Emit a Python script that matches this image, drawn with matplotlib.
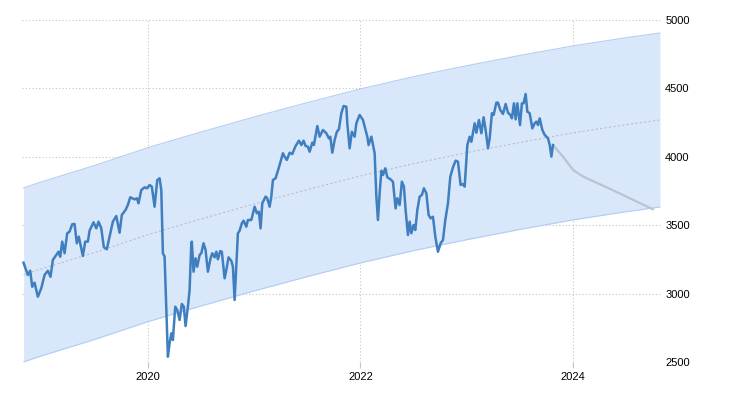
import matplotlib
matplotlib.use('Agg')
import matplotlib.pyplot as plt
import numpy as np

# index values (decimal years, points)
dates = [
    2018.834, 2018.875, 2018.897, 2018.916, 2018.938, 2018.969, 2019.001, 2019.032,
    2019.063, 2019.088, 2019.110, 2019.142, 2019.163, 2019.179, 2019.198, 2019.220,
    2019.245, 2019.267, 2019.292, 2019.314, 2019.335, 2019.354, 2019.392, 2019.414,
    2019.439, 2019.455, 2019.492, 2019.518, 2019.539, 2019.565, 2019.589, 2019.617,
    2019.636, 2019.674, 2019.706, 2019.737, 2019.758, 2019.793, 2019.815, 2019.837,
    2019.878, 2019.899, 2019.915, 2019.941, 2019.972, 2019.997, 2020.019, 2020.040,
    2020.066, 2020.091, 2020.113, 2020.129, 2020.144, 2020.160, 2020.176, 2020.191,
    2020.207, 2020.223, 2020.238, 2020.260, 2020.279, 2020.301, 2020.322, 2020.341,
    2020.357, 2020.379, 2020.395, 2020.411, 2020.416, 2020.432, 2020.451, 2020.467,
    2020.489, 2020.505, 2020.526, 2020.545, 2020.567, 2020.592, 2020.608, 2020.630,
    2020.646, 2020.661, 2020.683, 2020.698, 2020.724, 2020.740, 2020.761, 2020.787,
    2020.802, 2020.818, 2020.834, 2020.849, 2020.865, 2020.886, 2020.902, 2020.928,
    2020.943, 2020.975, 2021.006, 2021.027, 2021.046, 2021.062, 2021.078, 2021.109,
    2021.125, 2021.147, 2021.163, 2021.178, 2021.203, 2021.241, 2021.272, 2021.288,
    2021.309, 2021.335, 2021.360, 2021.388, 2021.422, 2021.445, 2021.466, 2021.485,
    2021.507, 2021.523, 2021.548, 2021.563, 2021.595, 2021.617, 2021.648, 2021.680,
    2021.704, 2021.717, 2021.736, 2021.758, 2021.779, 2021.798, 2021.821, 2021.842,
    2021.868, 2021.877, 2021.899, 2021.920, 2021.946, 2021.962, 2021.993, 2022.024,
    2022.065, 2022.077, 2022.103, 2022.134, 2022.150, 2022.165, 2022.181, 2022.197,
    2022.212, 2022.234, 2022.253, 2022.284, 2022.306, 2022.331, 2022.347, 2022.369,
    2022.390, 2022.409, 2022.425, 2022.447, 2022.463, 2022.479, 2022.500, 2022.516,
    2022.535, 2022.557, 2022.578, 2022.597, 2022.620, 2022.641, 2022.660, 2022.682,
    2022.704, 2022.729, 2022.754, 2022.776, 2022.798, 2022.823, 2022.845, 2022.870,
    2022.895, 2022.917, 2022.942, 2022.964, 2022.980, 2023.005, 2023.027, 2023.043,
    2023.074, 2023.090, 2023.114, 2023.137, 2023.158, 2023.177, 2023.199, 2023.215,
    2023.236, 2023.252, 2023.278, 2023.293, 2023.315, 2023.340, 2023.365, 2023.387,
    2023.409, 2023.424, 2023.443, 2023.459, 2023.475, 2023.500, 2023.518, 2023.534,
    2023.553, 2023.569, 2023.591, 2023.616, 2023.638, 2023.654, 2023.669, 2023.685,
    2023.710, 2023.732, 2023.763, 2023.779, 2023.795, 2023.810,
]
values = [
    3226, 3136, 3167, 3050, 3080, 2977, 3039, 3136,
    3167, 3123, 3246, 3282, 3306, 3270, 3380, 3295,
    3441, 3453, 3507, 3509, 3368, 3416, 3275, 3380,
    3380, 3460, 3521, 3477, 3526, 3477, 3339, 3324,
    3392, 3526, 3567, 3445, 3575, 3611, 3648, 3704,
    3689, 3697, 3660, 3757, 3777, 3770, 3794, 3782,
    3635, 3830, 3843, 3757, 3295, 3270, 2880, 2539,
    2637, 2710, 2661, 2904, 2880, 2807, 2924, 2904,
    2763, 2904, 3026, 3368, 3380, 3160, 3258, 3197,
    3282, 3295, 3368, 3319, 3160, 3258, 3295, 3265,
    3306, 3251, 3311, 3306, 3112, 3172, 3265, 3240,
    3197, 2953, 3197, 3441, 3460, 3514, 3533, 3489,
    3538, 3538, 3635, 3587, 3599, 3477, 3660, 3709,
    3697, 3635, 3709, 3830, 3843, 3940, 4026, 4001,
    3977, 4030, 4020, 4074, 4118, 4086, 4118, 4079,
    4074, 4037, 4103, 4086, 4225, 4147, 4196, 4172,
    4135, 4147, 4030, 4123, 4183, 4201, 4318, 4371,
    4366, 4245, 4062, 4183, 4147, 4245, 4306, 4269,
    4147, 4086, 4147, 4026, 3709, 3538, 3733, 3898,
    3867, 3916, 3850, 3835, 3818, 3623, 3697, 3648,
    3818, 3782, 3611, 3428, 3526, 3441, 3501, 3465,
    3611, 3709, 3721, 3770, 3733, 3575, 3550, 3562,
    3416, 3306, 3368, 3392, 3538, 3660, 3855, 3923,
    3972, 3964, 3794, 3801, 3782, 4086, 4147, 4110,
    4245, 4176, 4269, 4172, 4289, 4196, 4062, 4135,
    4318, 4306, 4396, 4396, 4342, 4313, 4386, 4322,
    4306, 4281, 4391, 4274, 4391, 4232, 4391, 4391,
    4459, 4330, 4318, 4208, 4245, 4257, 4232, 4281,
    4196, 4160, 4135, 4086, 4001, 4086,
]

# forecast
forecast_dates = [2023.810, 2023.904, 2024.000, 2024.094, 2024.314, 2024.531, 2024.750]
forecast_values = [4086, 4001, 3903, 3855, 3777, 3697, 3616]

# trend channel
band_dates = [2018.835, 2019.0, 2019.5, 2020.0, 2020.5, 2021.0, 2021.5, 2022.0,
              2022.5, 2023.0, 2023.5, 2024.0, 2024.5, 2024.815]
band_center = [3137, 3180, 3300, 3430, 3545, 3655, 3760, 3860,
               3950, 4030, 4105, 4175, 4235, 4269]
band_half = 636

x_ticks = [2020, 2022, 2024]
y_ticks = [2500, 3000, 3500, 4000, 4500, 5000]

plt.rcParams['font.family'] = ['Liberation Sans', 'DejaVu Sans']

fig = plt.figure(figsize=(7.3, 4), dpi=100)
ax = fig.add_axes([22 / 730, 1 - 362 / 400, 639 / 730, 342 / 400])

center = np.array(band_center)
ax.fill_between(band_dates, center - band_half, center + band_half,
                color='#d9e7fa', lw=0, zorder=1)
ax.plot(band_dates, center + band_half, color='#b3cdf3', lw=0.8, zorder=2)
ax.plot(band_dates, center - band_half, color='#b3cdf3', lw=0.8, zorder=2)
ax.plot(band_dates, center, color='#b9bfca', lw=0.8, ls=(0, (2, 2)), zorder=2)

ax.plot(forecast_dates, forecast_values, color='#b9c4d3', lw=1.6, zorder=3,
        solid_capstyle='round')
ax.plot(dates, values, color='#3f7fbf', lw=1.8, zorder=4,
        solid_joinstyle='round')

ax.set_xlim(2018.82, 2024.825)
ax.set_ylim(2500, 5000)
ax.set_xticks(x_ticks)
ax.set_xticklabels([str(t) for t in x_ticks])
ax.set_yticks(y_ticks)
ax.yaxis.tick_right()

ax.grid(True, color='#c4c4c4', lw=0.8, ls=(0, (1, 2)), zorder=0)
ax.set_axisbelow(True)
for s in ax.spines.values():
    s.set_visible(False)

ax.tick_params(axis='x', length=4, color='#c4c4c4', labelsize=8, pad=3)
ax.tick_params(axis='y', length=0, labelsize=8, pad=3)

fig.savefig('out.png', dpi=100)
